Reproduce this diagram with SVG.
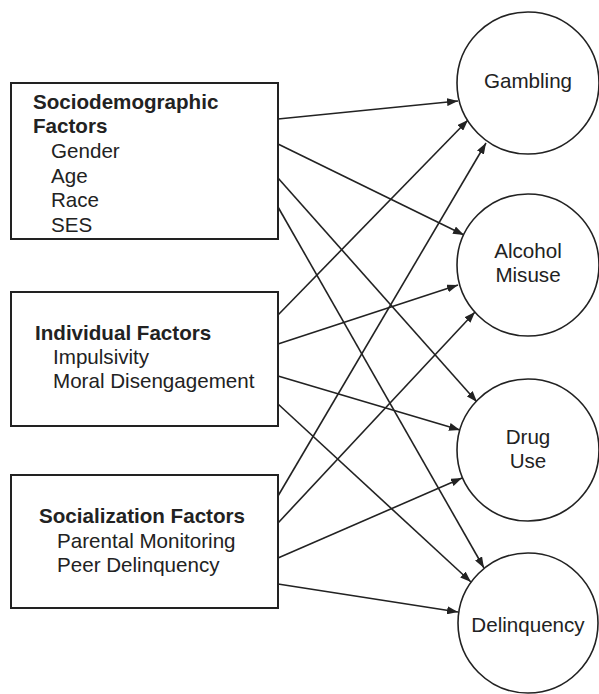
<svg xmlns="http://www.w3.org/2000/svg" width="599" height="694" viewBox="0 0 599 694">
<style>
.box{fill:#fff;stroke:#222;stroke-width:2}
.circ{fill:#fff;stroke:#222;stroke-width:1.6}
.t{font-family:"Liberation Sans",Arial,sans-serif;font-size:20.6px;fill:#222}
.b{font-weight:bold}
.c{text-anchor:middle}
.edge{stroke:#222;stroke-width:1.6;fill:none;marker-end:url(#ah)}
</style>
<defs>
<marker id="ah" markerUnits="userSpaceOnUse" markerWidth="11" markerHeight="8" refX="11" refY="4" orient="auto">
<path d="M0,0 L11,4 L0,8 z" fill="#222"/>
</marker>
</defs>
<rect width="599" height="694" fill="#fff"/>
<g id="connectors">
<line class="edge" x1="278" y1="119" x2="458" y2="101"/>
<line class="edge" x1="278" y1="144" x2="464" y2="235"/>
<line class="edge" x1="278" y1="178" x2="477" y2="402"/>
<line class="edge" x1="278" y1="207" x2="484" y2="568"/>
<line class="edge" x1="278" y1="315" x2="468" y2="120"/>
<line class="edge" x1="278" y1="344" x2="458" y2="285"/>
<line class="edge" x1="278" y1="376" x2="460" y2="430"/>
<line class="edge" x1="278" y1="404" x2="471" y2="582"/>
<line class="edge" x1="278" y1="496" x2="486" y2="143"/>
<line class="edge" x1="278" y1="523" x2="475" y2="312"/>
<line class="edge" x1="278" y1="558" x2="462" y2="478"/>
<line class="edge" x1="278" y1="584" x2="458" y2="612"/>
</g>
<g id="sociodemographic">
<rect class="box" x="11" y="83" width="267" height="156"/>
<text class="t b" x="33" y="109">Sociodemographic</text>
<text class="t b" x="33" y="133">Factors</text>
<text class="t" x="51" y="158">Gender</text>
<text class="t" x="51" y="183">Age</text>
<text class="t" x="51" y="207">Race</text>
<text class="t" x="51" y="232">SES</text>
</g>
<g id="individual">
<rect class="box" x="11" y="292" width="267" height="134"/>
<text class="t b" x="35" y="340">Individual Factors</text>
<text class="t" x="53" y="364">Impulsivity</text>
<text class="t" x="53" y="388">Moral Disengagement</text>
</g>
<g id="socialization">
<rect class="box" x="11" y="475" width="267" height="133"/>
<text class="t b" x="39" y="523">Socialization Factors</text>
<text class="t" x="57" y="548">Parental Monitoring</text>
<text class="t" x="57" y="572">Peer Delinquency</text>
</g>
<g id="gambling">
<circle class="circ" cx="528" cy="83" r="71"/>
<text class="t c" x="528" y="88">Gambling</text>
</g>
<g id="alcohol">
<circle class="circ" cx="528" cy="265" r="71"/>
<text class="t c" x="528" y="258">Alcohol</text>
<text class="t c" x="528" y="282">Misuse</text>
</g>
<g id="drug">
<circle class="circ" cx="528" cy="450" r="71"/>
<text class="t c" x="528" y="444">Drug</text>
<text class="t c" x="528" y="468">Use</text>
</g>
<g id="delinquency">
<circle class="circ" cx="528" cy="623" r="70"/>
<text class="t c" x="528" y="632">Delinquency</text>
</g>
</svg>
